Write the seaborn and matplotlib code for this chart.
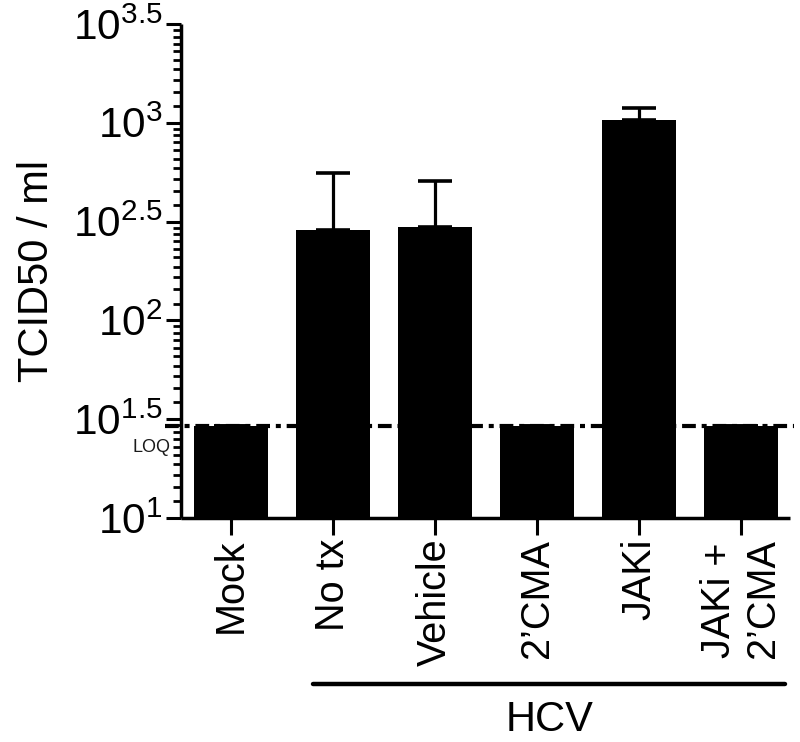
import numpy as np
import pandas as pd
import matplotlib
matplotlib.use("Agg")
import matplotlib.pyplot as plt
import matplotlib.transforms as mtransforms
from matplotlib.ticker import FixedLocator, NullFormatter
import seaborn as sns

# ---- data ----
categories = ["Mock", "No tx", "Vehicle", "2\u2019CMA", "JAKi", "JAKi +\n2\u2019CMA"]
tcid50 = [29.3, 286, 298, 29.3, 1033, 29.3]          # bar heights (TCID50/ml)
err_upper = [0, 271, 211, 0, 150, 0]                 # upper error (SEM)
loq = 29.3
major_exps = [1, 1.5, 2, 2.5, 3, 3.5]
major_labels = [r"$\mathregular{10^{1}}$", r"$\mathregular{10^{1.5}}$", r"$\mathregular{10^{2}}$",
                r"$\mathregular{10^{2.5}}$", r"$\mathregular{10^{3}}$", r"$\mathregular{10^{3.5}}$"]
ylabel = "TCID50 / ml"
group_label = "HCV"
loq_label = "LOQ"

sns.set_theme(style="ticks")
plt.rcParams["font.family"] = ["Liberation Sans", "DejaVu Sans"]
plt.rcParams["mathtext.fontset"] = "custom"
plt.rcParams["mathtext.rm"] = "Liberation Sans"
plt.rcParams["mathtext.it"] = "Liberation Sans:italic"
plt.rcParams["mathtext.bf"] = "Liberation Sans:bold"
for k in ["text.color", "axes.labelcolor", "xtick.color", "ytick.color", "axes.edgecolor"]:
    plt.rcParams[k] = "black"

fig = plt.figure(figsize=(8, 7.42), dpi=100)
ax = fig.add_axes([0.226, 0.302, 0.9875 - 0.226, 0.9677 - 0.302])

df = pd.DataFrame({"cat": categories, "val": tcid50})
sns.barplot(data=df, x="cat", y="val", color="black", width=0.72,
            saturation=1, edgecolor="black", linewidth=0, ax=ax, zorder=3)
ax.set_yscale("log")

xpos = np.arange(len(categories))
ax.errorbar(xpos, tcid50, yerr=[np.zeros(len(err_upper)), err_upper],
            fmt="none", ecolor="black", elinewidth=2.3, capsize=12.5,
            capthick=2.6, zorder=2)

# LOQ dash-dot line
ax.plot([-0.64, 5.52], [loq, loq], color="black", lw=3,
        linestyle=(0, (3.3, 1.4, 1.2, 1.4)), zorder=1, clip_on=False,
        solid_capstyle="butt", dash_capstyle="butt")
ax.text(-0.78, 10 ** 1.355, loq_label, ha="center", va="center",
        fontsize=13, color="#1a1a1a", clip_on=False)

ax.set_xlim(-0.49, 5.48)
ax.set_ylim(10 ** 1, 10 ** 3.5)

majors = [10 ** e for e in major_exps]
ax.yaxis.set_major_locator(FixedLocator(majors))
ax.set_yticklabels(major_labels)
minors = []
for a, b in zip(majors[:-1], majors[1:]):
    minors.extend(list(np.linspace(a, b, 11)[1:-1]))
ax.yaxis.set_minor_locator(FixedLocator(minors))
ax.yaxis.set_minor_formatter(NullFormatter())

ax.set_xticks(xpos)
ax.set_xticklabels(categories, rotation=90, fontsize=28.5, multialignment="left")
ax.tick_params(axis="y", which="major", labelsize=30.5, length=11, width=2.2,
               direction="out", pad=2)
ax.tick_params(axis="y", which="minor", length=6, width=2.0, direction="out")
ax.tick_params(axis="x", which="major", length=12, width=2.2, direction="out", pad=3)
ax.set_xlabel("")
ax.set_ylabel(ylabel, fontsize=30, labelpad=12)

for s in ["top", "right"]:
    ax.spines[s].set_visible(False)
for s in ["left", "bottom"]:
    ax.spines[s].set_linewidth(2.5)
    ax.spines[s].set_capstyle("butt")

# HCV group line and label
trans = mtransforms.blended_transform_factory(ax.transData, ax.transAxes)
ax.plot([0.81, 5.43], [-0.336, -0.336], color="black", lw=3.2,
        solid_capstyle="round", transform=trans, clip_on=False)
ax.text(3.12, -0.41, group_label, ha="center", va="center", fontsize=30,
        transform=trans, clip_on=False)

fig.savefig("out.png", dpi=100)
